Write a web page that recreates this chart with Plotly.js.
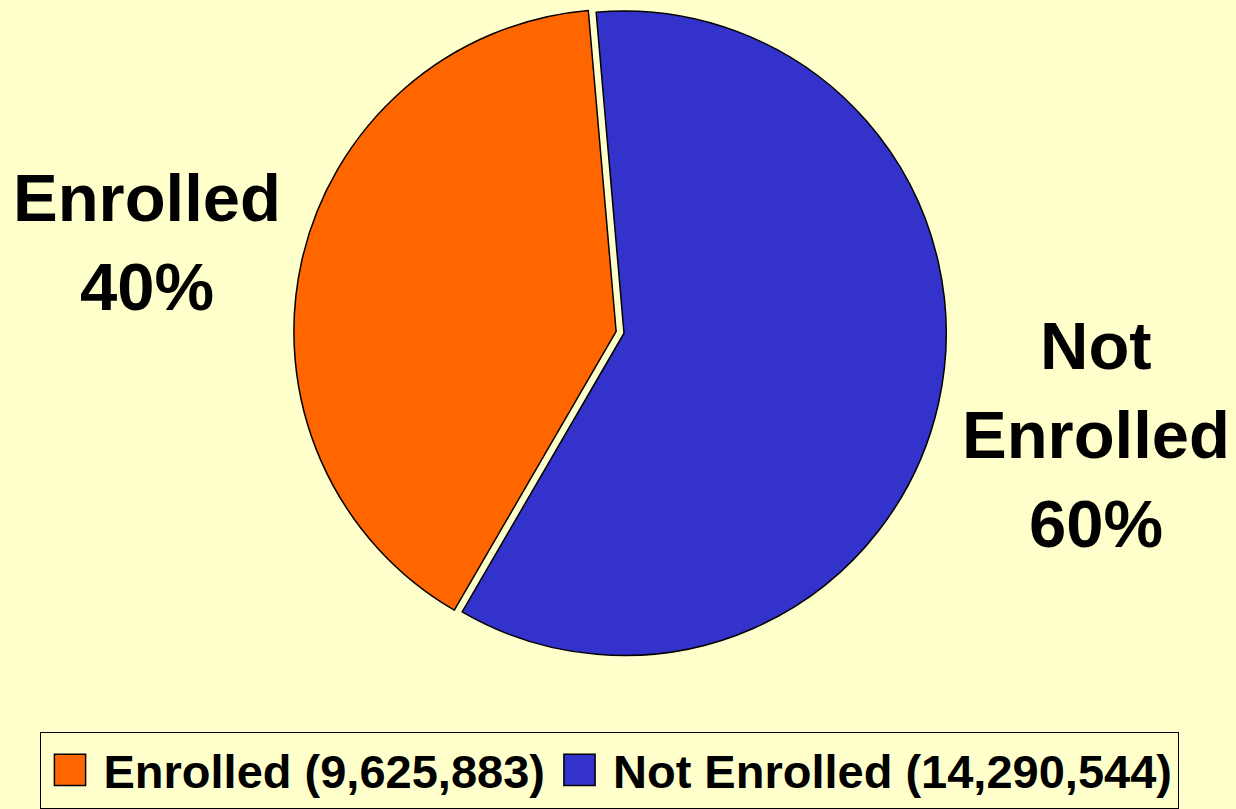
<!DOCTYPE html>
<html>
<head>
<meta charset="utf-8">
<script src="https://cdn.plot.ly/plotly-3.0.1.min.js"></script>
<style>
  html, body { margin: 0; padding: 0; background: #FFFFCC; }
  #chart { width: 1236px; height: 809px; }
</style>
</head>
<body>
<div id="chart"></div>
<script>
// ---- data ----
const categories = ["Enrolled", "Not Enrolled"];
const values = [9625883, 14290544];
const sliceColors = ["#FF6600", "#3333CC"];
const pulls = [0.025, 0];

const total = values.reduce((a, b) => a + b, 0);
const legendLabels = categories.map((c, i) => c + " (" + values[i].toLocaleString("en-US") + ")");
const pctText = values.map(v => Math.round(v / total * 100) + "%");

const FONT = "Liberation Sans, Arial, Helvetica, sans-serif";
const W = 1236, H = 809;

const trace = {
  type: "pie",
  labels: legendLabels,
  values: values,
  sort: false,
  direction: "counterclockwise",
  rotation: 210.15,
  pull: pulls,
  textinfo: "none",
  hoverinfo: "none",
  marker: { colors: sliceColors, line: { color: "#000000", width: 1.5 } },
  domain: { x: [290 / W, 958 / W], y: [1 - 671 / H, 1 - 3 / H] }
};

// label placement: centre x and first-line baseline (px), line pitch 90px
const labelFontSize = 67;
const labelAnchors = [
  { cx: 147, base: 222 },
  { cx: 1096, base: 372 }
];
const linePitch = 90;

const annotations = [];
categories.forEach((c, i) => {
  const lines = c.split(" ").concat([pctText[i]]);
  lines.forEach((ln, k) => {
    const baseline = labelAnchors[i].base + k * linePitch;
    const centre = baseline - 0.34 * labelFontSize;
    annotations.push({
      xref: "paper", yref: "paper",
      x: labelAnchors[i].cx / W, y: 1 - centre / H,
      xanchor: "center", yanchor: "middle",
      showarrow: false,
      text: ln,
      font: { family: FONT, size: labelFontSize, color: "#000000", weight: "bold" }
    });
  });
});

const layout = {
  width: W, height: H,
  margin: { l: 0, r: 0, t: 0, b: 0, pad: 0 },
  paper_bgcolor: "#FFFFCC",
  plot_bgcolor: "#FFFFCC",
  showlegend: true,
  legend: {
    orientation: "h",
    x: 609 / W, xanchor: "center",
    y: 1 - 740 / H, yanchor: "top",
    bgcolor: "#FFFFCC",
    bordercolor: "#000000",
    borderwidth: 1,
    itemwidth: 53,
    font: { family: FONT, size: 47, color: "#000000", weight: "bold" },
    traceorder: "normal"
  },
  annotations: annotations
};

Plotly.newPlot("chart", [trace], layout, { displayModeBar: false, staticPlot: true }).then(gd => {
  // enlarge legend swatches to match the reference's square markers
  gd.querySelectorAll(".legendpoints path").forEach(p => {
    p.setAttribute("transform", "translate(29.5,0) scale(2.6)");
    p.setAttribute("vector-effect", "non-scaling-stroke");
    p.style.strokeWidth = "1.5px";
  });
});
</script>
</body>
</html>
